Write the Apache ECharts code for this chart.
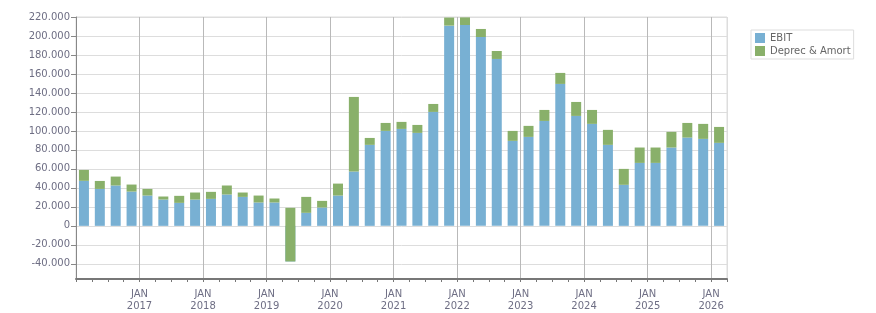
<!DOCTYPE html>
<html>
<head>
<meta charset="utf-8">
<script src="https://cdn.jsdelivr.net/npm/echarts@6/dist/echarts.min.js"></script>
<style>html,body{margin:0;padding:0;background:#fff;}#c{width:876px;height:313px;}</style>
</head>
<body>
<div id="c"></div>
<script>
const categories = [
  '2016 Q1','2016 Q2','2016 Q3','2016 Q4',
  '2017 Q1','2017 Q2','2017 Q3','2017 Q4',
  '2018 Q1','2018 Q2','2018 Q3','2018 Q4',
  '2019 Q1','2019 Q2','2019 Q3','2019 Q4',
  '2020 Q1','2020 Q2','2020 Q3','2020 Q4',
  '2021 Q1','2021 Q2','2021 Q3','2021 Q4',
  '2022 Q1','2022 Q2','2022 Q3','2022 Q4',
  '2023 Q1','2023 Q2','2023 Q3','2023 Q4',
  '2024 Q1','2024 Q2','2024 Q3','2024 Q4',
  '2025 Q1','2025 Q2','2025 Q3','2025 Q4',
  '2026 Q1'
];
const ebit = [
  47400, 38900, 42500, 36100,
  31900, 27700, 24200, 27700,
  28400, 33000, 30500, 24600,
  24600, -37500, 13700, 19300,
  31900, 57200, 85300, 100000,
  102100, 97900, 120000, 210900,
  211600, 198900, 175800, 89500,
  93700, 110500, 149500, 115800,
  107400, 85300, 43200, 66300,
  66300, 82500, 93000, 91600,
  87400
];
const deprecAmort = [
  11500, 8400, 9400, 7400,
  7000, 3200, 7400, 7400,
  7400, 9500, 4600, 7300,
  4200, 56500, 16800, 7000,
  12600, 78600, 7300, 8400,
  7400, 8400, 8400, 8500,
  8000, 8500, 8400, 10500,
  11600, 11600, 11600, 14700,
  14700, 15800, 16800, 16200,
  16200, 16500, 15400, 15800,
  16800
];
const yearTicks = ['2017','2018','2019','2020','2021','2022','2023','2024','2025','2026'];
const yTicks = [-40000,-20000,0,20000,40000,60000,80000,100000,120000,140000,160000,180000,200000,220000];

const fmt = v => String(v).replace(/\B(?=(\d{3})+(?!\d))/g, '.');
const FONT = 'DejaVu Sans';
const TXT = '#6e6e84';

const chart = echarts.init(document.getElementById('c'), null, {renderer: 'canvas'});
const vColors = yearTicks.map(() => '#b9b9b9');
vColors.unshift('#b9b9b9');
vColors.push('#dddddd');

chart.setOption({
  animation: false,
  backgroundColor: '#fff',
  grid: {left: 76, right: 149, top: 17, bottom: 34, show: true, borderColor: '#dddddd', borderWidth: 1, backgroundColor: 'transparent'},
  legend: {
    orient: 'vertical', left: 751, top: 30, padding: [3, 3, 3, 4],
    itemWidth: 10, itemHeight: 10, itemGap: 3, icon: 'rect',
    borderColor: '#dddddd', borderWidth: 1,
    textStyle: {fontFamily: FONT, fontSize: 10, color: '#666'},
    data: ['EBIT', 'Deprec & Amort']
  },
  xAxis: [
    {
      type: 'category', data: categories, boundaryGap: true, position: 'bottom',
      axisLine: {show: true, onZero: false, lineStyle: {color: '#777', width: 2}},
      axisTick: {show: true, interval: 0, length: 3, lineStyle: {color: '#777'}},
      axisLabel: {show: false},
      splitLine: {show: false}
    },
    {
      type: 'value', min: 0, max: categories.length, interval: 4, position: 'bottom',
      axisLine: {show: false, onZero: false}, axisTick: {show: false},
      axisLabel: {
        show: true, margin: 9, showMaxLabel: false, showMinLabel: false,
        fontFamily: FONT, fontSize: 10, color: TXT, lineHeight: 12,
        formatter: v => (v > 0 && v % 4 === 0 && yearTicks[v / 4 - 1]) ? 'JAN\n' + yearTicks[v / 4 - 1] : ''
      },
      splitLine: {show: true, lineStyle: {color: vColors, width: 1}}
    }
  ],
  yAxis: {
    type: 'value', min: -56000, max: 220000,
    axisLine: {show: true, lineStyle: {color: '#888', width: 1}},
    axisTick: {show: true, length: 5, customValues: yTicks, lineStyle: {color: '#888'}},
    axisLabel: {customValues: yTicks, margin: 6, fontFamily: FONT, fontSize: 10, color: TXT, formatter: fmt},
    splitLine: {show: true, customValues: yTicks, lineStyle: {color: '#dddddd', width: 1}}
  },
  series: [
    {name: 'EBIT', type: 'bar', stack: 'total', stackStrategy: 'all', barWidth: 10, xAxisIndex: 0,
     itemStyle: {color: '#78b0d3'}, data: ebit},
    {name: 'Deprec & Amort', type: 'bar', stack: 'total', stackStrategy: 'all', barWidth: 10, xAxisIndex: 0,
     itemStyle: {color: '#89b06a'}, data: deprecAmort}
  ]
});
</script>
</body>
</html>
